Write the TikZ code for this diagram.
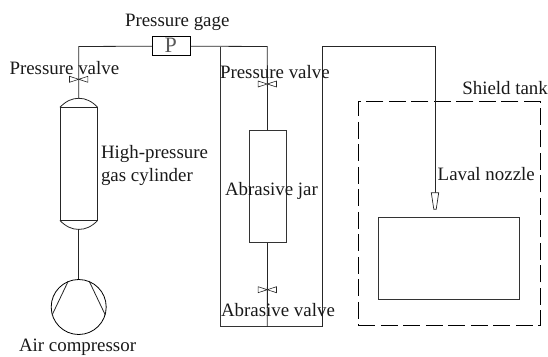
\documentclass[tikz,border=0pt]{standalone}
\usepackage{fontspec}
\setmainfont{Liberation Serif}
\tikzset{
  x=1pt,y=-1pt,
  pipe/.style={draw=black!85,line width=0.8pt,line join=miter},
  heavy/.style={draw=black!80,line width=1pt},
  lbl/.style={anchor=base west,inner sep=0pt,outer sep=0pt,font=\fontsize{18.9}{20}\selectfont,text=black!90},
  box/.style={draw=black!80,line width=1pt,inner sep=0pt,minimum width=#1},
  dashtank/.style={draw=black,line width=0.8pt,dash pattern=on 17pt off 5.5pt},
  pics/valve/.style={code={
    \draw[draw=black!85,line width=0.6pt,fill=white] (-9.2,-3) -- (9.2,3) -- (9.2,-3) -- (-9.2,3) -- cycle;
  }}
}
\begin{document}
\begin{tikzpicture}
\useasboundingbox (0,0) rectangle (548,356);
% fixed points
\coordinate (leftTop) at (78.7,46.5);
\coordinate (loopTL) at (220,46.5);
\coordinate (jarTop) at (267.3,46.5);
\coordinate (loopBL) at (220,326.7);
\coordinate (jarBot) at (267.3,326.7);
\coordinate (loopBR) at (322.3,326.7);
\coordinate (loopTR) at (322.3,46.3);
\coordinate (feedTop) at (435,46.3);
% equipment
\node[box=37.3pt,minimum height=19pt,draw=black,line width=1.1pt] (gage) at (171.4,46.2) {};
\node[anchor=center,inner sep=0pt,font=\fontsize{22}{24}\selectfont,text=black!65] (gageP) at (170.8,45.4) {P};
\node[box=37pt,minimum height=112.3pt,line width=0.8pt,draw=black!85] (cyl) at (78.8,163.9) {};
\node[box=37pt,minimum height=111.8pt] (jar) at (267.5,186.6) {};
\node[circle,draw=black,line width=0.8pt,minimum size=55pt,inner sep=0pt] (comp) at (78.7,307) {};
\node[box=140.6pt,minimum height=82.3pt] (work) at (449,258.2) {};
\node[dashtank,minimum width=181.7pt,minimum height=224pt,inner sep=0pt] (tank) at (449.2,213.7) {};
\coordinate (nozTop) at (435,192.7);
% pipes
\draw[pipe] (gage.east) -- (jarTop) -- (jar.north);
\draw[pipe] (gage.west) -- (leftTop) -- (78.7,98.3);
\draw[heavy] (loopTL) -- (loopBL) -- (loopBR);
\draw[pipe] (jar.south) -- (jarBot);
\draw[pipe] (loopBR) -- (loopTR) -- (feedTop) -- (nozTop);
\draw[pipe] (78.7,229.3) -- (comp.north);
% cylinder caps
\draw[pipe] (cyl.north west) .. controls (66,101) and (72,98.3) .. (78.8,98.3) .. controls (85.6,98.3) and (91.6,101) .. (cyl.north east);
\draw[pipe] (cyl.south west) .. controls (66,226.7) and (72,229.4) .. (78.8,229.4) .. controls (85.6,229.4) and (91.6,226.7) .. (cyl.south east);
% compressor strokes
\draw[pipe] (comp.112) -- (comp.197);
\draw[pipe] (comp.68) -- (comp.-17);
% nozzle
\draw[pipe,line width=0.7pt,fill=white] (431.3,192.7) -- (438.7,192.7) -- (436.2,209.3) -- (433.8,209.3) -- cycle;
% valves
\pic at (78.7,79.3) {valve};
\pic at (267.3,84) {valve};
\pic at (267.3,289.7) {valve};
% labels
\node[lbl] (tGage) at (125,26) {Pressure gage};
\node[lbl] (tV1) at (9.5,74) {Pressure valve};
\node[lbl] (tV2) at (220,78.3) {Pressure valve};
\node[lbl] (tHP) at (101,158.3) {High-pressure};
\node[lbl] (tGC) at (101,181) {gas cylinder};
\node[lbl] (tJar) at (225,195.7) {Abrasive jar};
\node[lbl] (tV3) at (221,316) {Abrasive valve};
\node[lbl] (tAir) at (19,351) {Air compressor};
\node[lbl] (tTank) at (462.3,94) {Shield tank};
\node[lbl] (tNoz) at (437.7,180) {Laval nozzle};
\end{tikzpicture}
\end{document}
